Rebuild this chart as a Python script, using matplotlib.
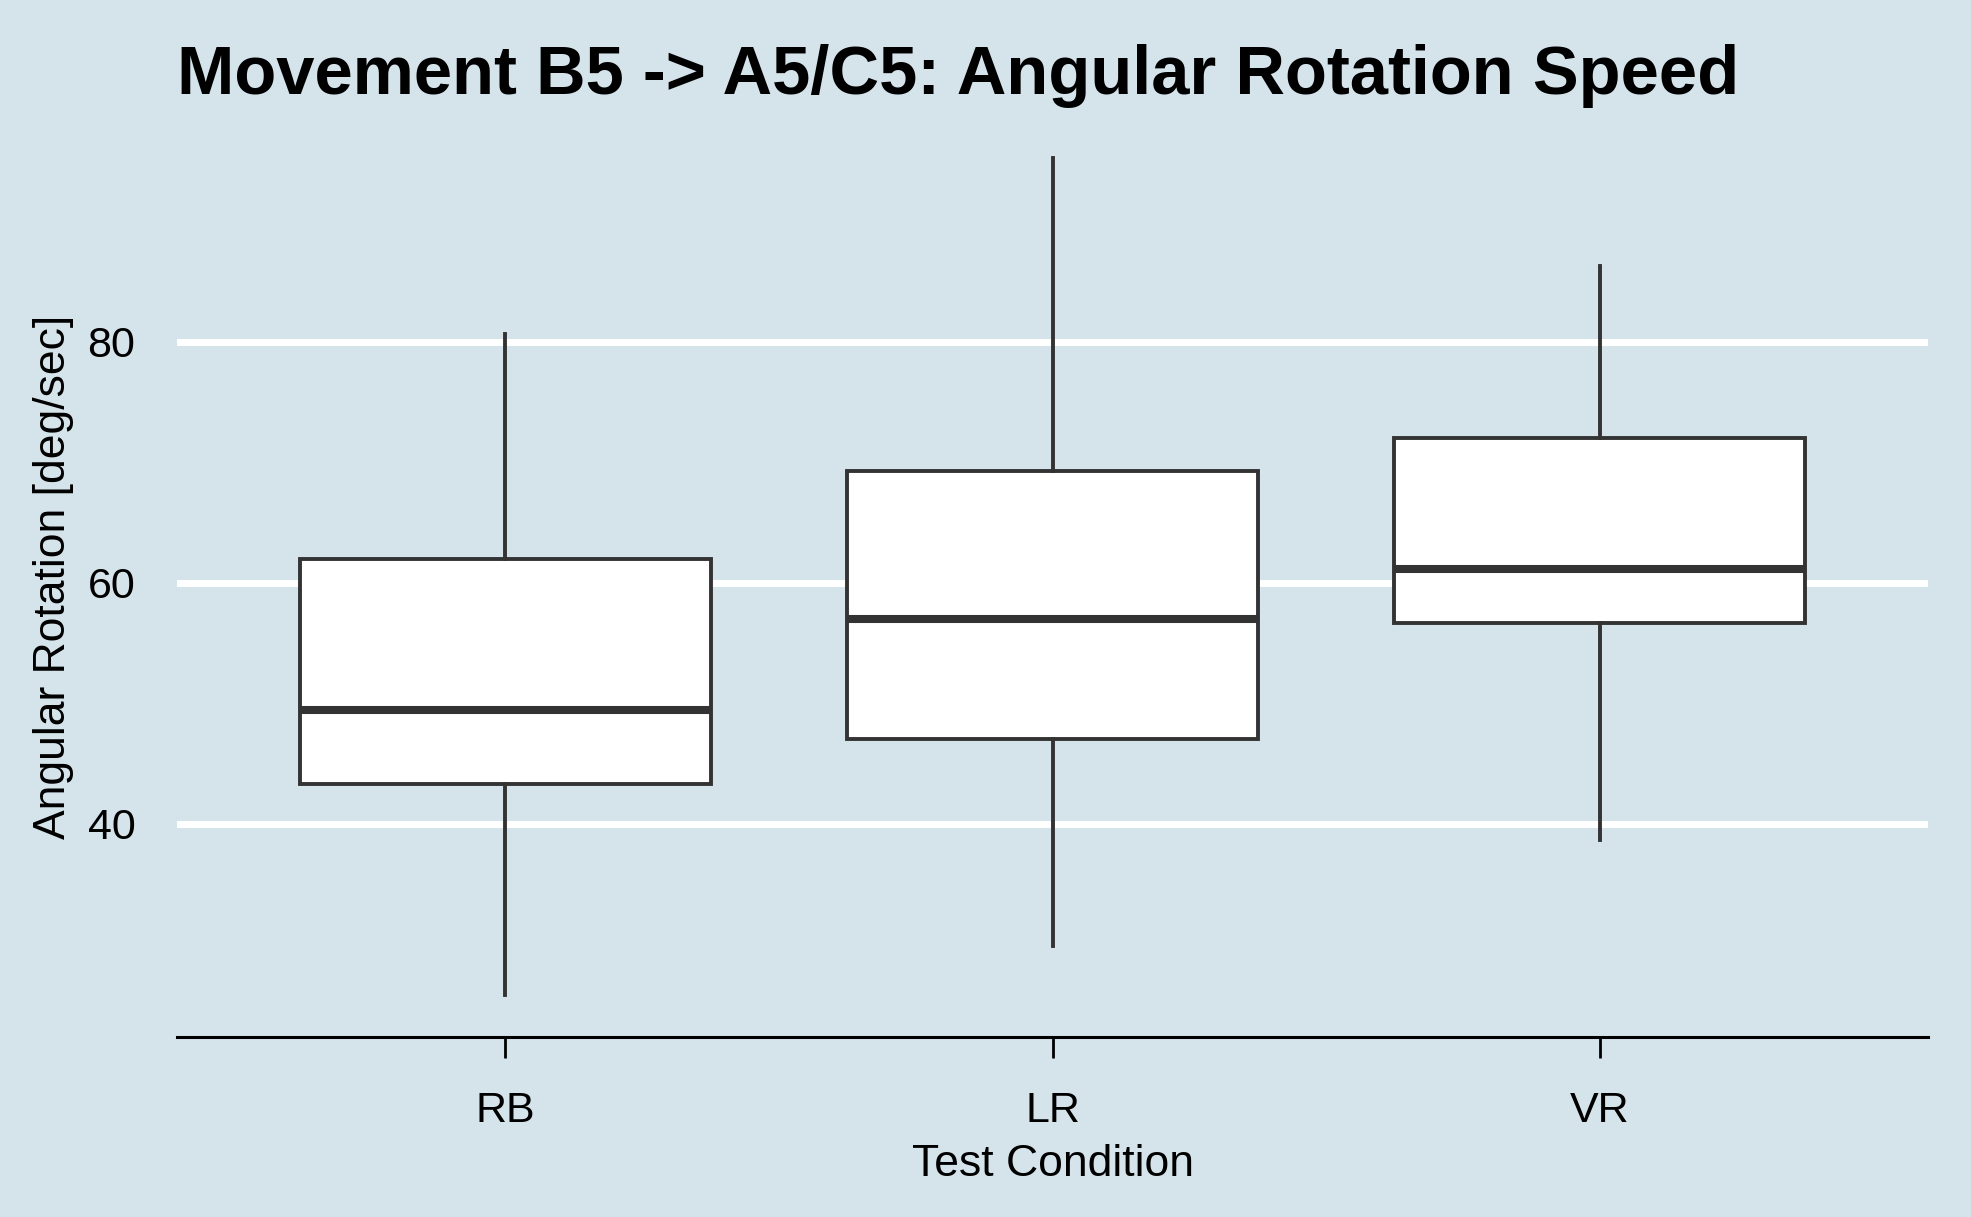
import numpy as np
import matplotlib.pyplot as plt

plt.rcParams['font.family'] = ['Liberation Sans', 'DejaVu Sans']

# box statistics (deg/sec)
conditions = ['RB', 'LR', 'VR']
whisker_low = [25.8, 29.9, 38.7]
q1 = [43.3, 47.05, 56.65]
median = [49.45, 57.0, 61.15]
q3 = [62.0, 69.3, 72.0]
whisker_high = [80.6, 95.2, 86.3]
y_ticks = [40, 60, 80]

bg = '#d5e4eb'
dark = '#333333'

fig = plt.figure(figsize=(19.71, 12.17), dpi=100, facecolor=bg)
ax = fig.add_axes([177 / 1971, 1 - 1037 / 1217, (1928 - 177) / 1971, (1037 - 116.5) / 1217])
ax.set_facecolor(bg)

stats = []
for i, name in enumerate(conditions):
    stats.append(dict(label=name, whislo=whisker_low[i], q1=q1[i], med=median[i],
                      q3=q3[i], whishi=whisker_high[i], fliers=[]))

pos = np.arange(1, len(conditions) + 1)
ax.bxp(stats, positions=pos, widths=0.75, showcaps=False, showfliers=False,
       patch_artist=True,
       boxprops=dict(facecolor='white', edgecolor=dark, linewidth=2.8),
       whiskerprops=dict(color=dark, linewidth=2.8),
       medianprops=dict(color=dark, linewidth=5.8, solid_capstyle='butt'),
       zorder=3)

lo, hi = min(whisker_low), max(whisker_high)
pad = (hi - lo) * 0.05
ax.set_ylim(lo - pad, hi + pad)
ax.set_xlim(0.4, len(conditions) + 0.6)

ax.set_yticks(y_ticks)
ax.yaxis.grid(True, color='white', linewidth=5, zorder=0)
ax.set_axisbelow(True)
ax.xaxis.grid(False)

for s in ['top', 'right', 'left']:
    ax.spines[s].set_visible(False)
ax.spines['bottom'].set_linewidth(2.2)
ax.spines['bottom'].set_color('black')

ax.tick_params(axis='y', length=0, pad=30, labelsize=31)
ax.tick_params(axis='x', length=15, width=2, color='black', pad=24, labelsize=31)

ax.set_xlabel('Test Condition', fontsize=32, labelpad=9)
ax.set_ylabel('Angular Rotation [deg/sec]', fontsize=32, labelpad=10)

fig.text(177 / 1971, 1 - 94 / 1217, 'Movement B5 -> A5/C5: Angular Rotation Speed',
         fontsize=49.5, fontweight='bold', ha='left', va='baseline')

fig.savefig('out.png', dpi=100, facecolor=bg)
